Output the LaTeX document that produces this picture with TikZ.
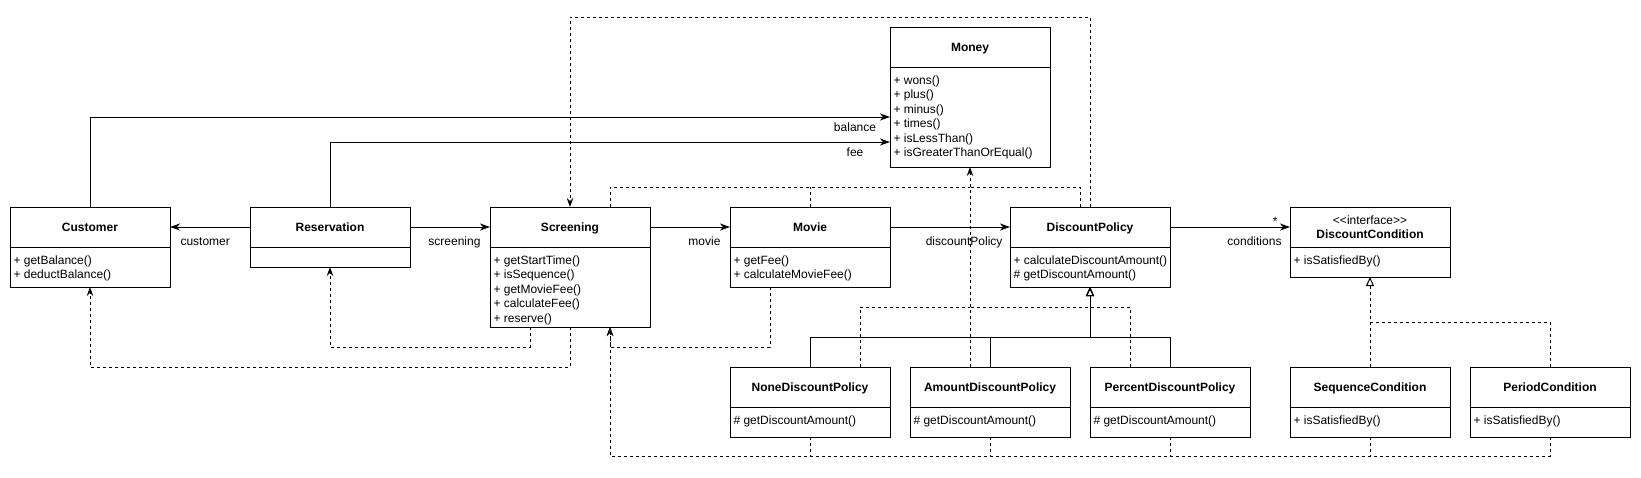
\documentclass[tikz,border=0pt]{standalone}
\usepackage{fontspec}
\setmainfont{Liberation Sans}
\usetikzlibrary{positioning,arrows.meta}

\newcommand{\mstrut}{\rule{0pt}{10pt}}

\begin{document}
\begin{tikzpicture}[x=1pt, y=-1pt, line width=1pt, node distance=80pt,
  every node/.style={font=\fontsize{12}{14.4}\selectfont}]
\tikzstyle{cls}=[draw, minimum width=160pt, minimum height=40pt, inner sep=0pt, outer sep=0pt, text height=8.6pt, text depth=0pt, font=\fontsize{12}{14.4}\selectfont\bfseries]
\tikzstyle{membox}=[draw, minimum width=160pt, inner sep=0pt, outer sep=0pt, anchor=north]
\tikzstyle{memb}=[anchor=north west, inner sep=0pt, align=left]
\tikzstyle{lbl}=[inner sep=0pt]
\tikzstyle{assoc}=[-{Stealth[length=10pt,width=7pt,inset=3pt]}]
\tikzstyle{dep}=[dash pattern=on 3pt off 3pt, -{Stealth[length=9pt,width=6.5pt,inset=3pt]}]
\tikzstyle{depline}=[dash pattern=on 3pt off 3pt]
\tikzstyle{gen}=[-{Triangle[open,length=9pt,width=8pt]}]
\tikzstyle{realize}=[dash pattern=on 3pt off 3pt, -{Triangle[open,length=9pt,width=8pt]}]

\useasboundingbox (0,0) rectangle (1641,477);

% main row
\node[cls] (cust) at (90,227) {Customer};
\node[membox, minimum height=40pt] (cust-b) at (cust.south) {};
\node[memb] (cust-m) at ([xshift=3pt,yshift=-7pt]cust-b.north west) {\mstrut+ getBalance()\\+ deductBalance()};

\node[cls, right=of cust] (resv) {Reservation};
\node[membox, minimum height=20pt] (resv-b) at (resv.south) {};

\node[cls, right=of resv] (scr) {Screening};
\node[membox, minimum height=80pt] (scr-b) at (scr.south) {};
\node[memb] (scr-m) at ([xshift=3pt,yshift=-7pt]scr-b.north west) {\mstrut+ getStartTime()\\+ isSequence()\\+ getMovieFee()\\+ calculateFee()\\+ reserve()};

\node[cls, right=of scr] (movie) {Movie};
\node[membox, minimum height=40pt] (movie-b) at (movie.south) {};
\node[memb] (movie-m) at ([xshift=3pt,yshift=-7pt]movie-b.north west) {\mstrut+ getFee()\\+ calculateMovieFee()};

\node[cls, right=120pt of movie] (dp) {DiscountPolicy};
\node[membox, minimum height=40pt] (dp-b) at (dp.south) {};
\node[memb] (dp-m) at ([xshift=3pt,yshift=-7pt]dp-b.north west) {\mstrut+ calculateDiscountAmount()\\\# getDiscountAmount()};

\node[cls, right=120pt of dp, text height=, text depth=, align=center] (dcond) {{\mdseries <{}<interface>{}>}\\\textbf{DiscountCondition}};
\node[membox, minimum height=30pt] (dcond-b) at (dcond.south) {};
\node[memb] (dcond-m) at ([xshift=3pt,yshift=-7pt]dcond-b.north west) {\mstrut+ isSatisfiedBy()};

% Money on top
\node[cls] (money) at (970,47) {Money};
\node[membox, minimum height=100pt] (money-b) at (money.south) {};
\node[memb] (money-m) at ([xshift=3pt,yshift=-7pt]money-b.north west) {\mstrut+ wons()\\+ plus()\\+ minus()\\+ times()\\+ isLessThan()\\+ isGreaterThanOrEqual()};

% subclasses
\node[cls, below=80pt of movie-b] (none) {NoneDiscountPolicy};
\node[membox, minimum height=30pt] (none-b) at (none.south) {};
\node[memb] (none-m) at ([xshift=3pt,yshift=-7pt]none-b.north west) {\mstrut\# getDiscountAmount()};

\node[cls, right=20pt of none] (amount) {AmountDiscountPolicy};
\node[membox, minimum height=30pt] (amount-b) at (amount.south) {};
\node[memb] (amount-m) at ([xshift=3pt,yshift=-7pt]amount-b.north west) {\mstrut\# getDiscountAmount()};

\node[cls, right=20pt of amount] (pct) {PercentDiscountPolicy};
\node[membox, minimum height=30pt] (pct-b) at (pct.south) {};
\node[memb] (pct-m) at ([xshift=3pt,yshift=-7pt]pct-b.north west) {\mstrut\# getDiscountAmount()};

\node[cls, below=90pt of dcond-b] (seq) {SequenceCondition};
\node[membox, minimum height=30pt] (seq-b) at (seq.south) {};
\node[memb] (seq-m) at ([xshift=3pt,yshift=-7pt]seq-b.north west) {\mstrut+ isSatisfiedBy()};

\node[cls, right=20pt of seq] (period) {PeriodCondition};
\node[membox, minimum height=30pt] (period-b) at (period.south) {};
\node[memb] (period-m) at ([xshift=3pt,yshift=-7pt]period-b.north west) {\mstrut+ isSatisfiedBy()};

% associations
\draw[assoc] (resv) -- node[lbl, pos=1, anchor=base west, xshift=10pt, yshift=-18pt] (l-cust) {customer} (cust);
\draw[assoc] (resv) -- node[lbl, pos=1, anchor=base east, xshift=-9pt, yshift=-18pt] (l-scr) {screening} (scr);
\draw[assoc] (scr) -- node[lbl, pos=1, anchor=base east, xshift=-9pt, yshift=-18pt] (l-movie) {movie} (movie);
\draw[assoc] (movie) -- node[lbl, pos=1, anchor=base east, xshift=-7pt, yshift=-18pt] (l-dp) {discountPolicy} (dp);
\draw[assoc] (dp) -- node[lbl, pos=1, anchor=base east, xshift=-8pt, yshift=-18pt] (l-cond) {conditions}
  node[lbl, pos=1, anchor=base east, xshift=-12pt, yshift=2pt] (l-many) {*} (dcond);
\draw[assoc] (cust.north) |- node[lbl, pos=1, anchor=base, xshift=-35pt, yshift=-14pt] (l-bal) {balance} (money-b.west);
\draw[assoc] (resv.north) |- node[lbl, pos=1, anchor=base, xshift=-35pt, yshift=-14pt] (l-fee) {fee} ([yshift=-25pt]money-b.west);

% dependencies on Screening, Reservation, Customer
\draw[dep] (scr-b.south) -- ++(0,40) -| (cust-b.south);
\draw[dep] ([xshift=-40pt]scr-b.south) -- ++(0,20) -| (resv-b.south);
\draw[dep] ([xshift=-40pt]movie-b.south) -- ++(0,60) -| ([xshift=40pt]scr-b.south);
\draw[dep] (dp.north) -- ++(0,-190) -| (scr.north);

\coordinate (sbus) at ([yshift=-19pt]period-b.south);
\draw[dep] (period-b.south) -- (sbus) -| ([xshift=40pt]scr-b.south);
\foreach \c in {none,amount,pct,seq}
  \draw[depline] (\c-b.south) -- (\c-b.south |- sbus);

% dependencies on Money
\coordinate (mlow) at ([yshift=-140pt]money-b.south);
\coordinate (mhigh) at ([yshift=-20pt]money-b.south);
\draw[dep] (amount.north -| money-b.south) -- (money-b.south);
\draw[depline] ([xshift=50pt]none.north) |- (mlow);
\draw[depline] ([xshift=-40pt]pct.north) |- (mlow);
\draw[depline] ([xshift=40pt]scr.north) |- (mhigh);
\draw[depline] (movie.north) -- (movie.north |- mhigh);
\draw[depline] ([xshift=-10pt]dp.north) |- (mhigh);

% inheritance
\draw[gen] (none.north) -- ++(0,-30) -| (dp-b.south);
\draw[gen] (amount.north) -- ++(0,-30) -| (dp-b.south);
\draw[gen] (pct.north) -- ++(0,-30) -| (dp-b.south);

\coordinate (rbus) at ([yshift=-45pt]dcond-b.south);
\draw[realize] (seq.north) -- (dcond-b.south);
\draw[depline] (period.north) |- (rbus);
\end{tikzpicture}
\end{document}
